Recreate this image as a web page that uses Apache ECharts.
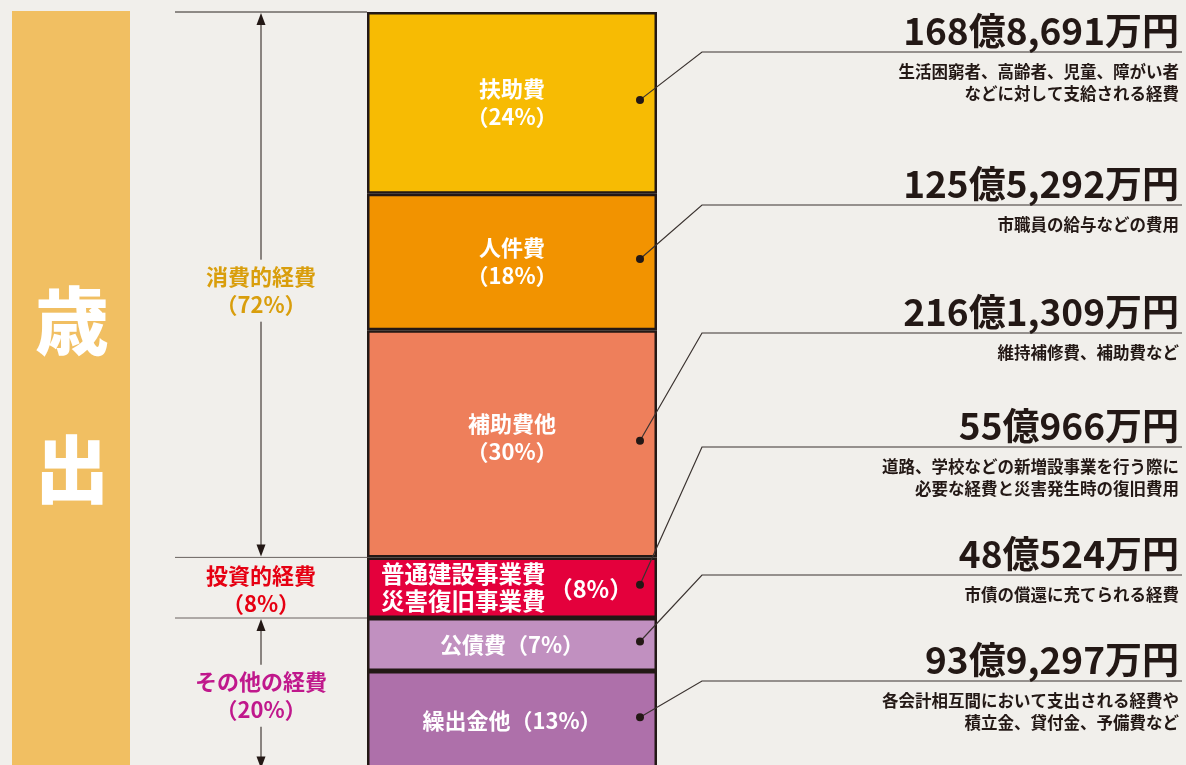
<!DOCTYPE html>
<html lang="ja">
<head>
<meta charset="utf-8">
<title>歳出</title>
<script src="https://cdn.jsdelivr.net/npm/echarts@6/dist/echarts.min.js"></script>
<style>
  html, body { margin: 0; padding: 0; background: #f1efeb; }
  #chart { width: 1186px; height: 765px; }
</style>
</head>
<body>
<div id="chart"></div>
<script>
// 歳出の内訳（構成比と金額）
const categories = ['扶助費', '人件費', '補助費他', '普通建設事業費\n災害復旧事業費', '公債費', '繰出金他']
const shares = [24, 18, 30, 8, 7, 13]
const amounts = ['168億8,691万円', '125億5,292万円', '216億1,309万円', '55億966万円', '48億524万円', '93億9,297万円']
const notes = [
  '生活困窮者、高齢者、児童、障がい者\nなどに対して支給される経費',
  '市職員の給与などの費用',
  '維持補修費、補助費など',
  '道路、学校などの新増設事業を行う際に\n必要な経費と災害発生時の復旧費用',
  '市債の償還に充てられる経費',
  '各会計相互間において支出される経費や\n積立金、貸付金、予備費など'
]
const groupNames = ['消費的経費', '投資的経費', 'その他の経費']
const groupShares = [72, 8, 20]
const groupSizes = [3, 1, 2]

const colors = ['#f7bb03', '#f29300', '#ee7f5b', '#e4003c', '#c190c0', '#ae70aa']
const groupColors = ['#d99e0c', '#e60012', '#c0188c']
const calloutY = [52, 205, 333, 447, 575, 681]
const FONT = '"Noto Sans CJK JP", "Noto Sans", sans-serif'
const INK = '#231815'

const starts = shares.map((_, i) => shares.slice(0, i).reduce((a, b) => a + b, 0))
const groupStarts = groupSizes.map((_, g) => starts[groupSizes.slice(0, g).reduce((a, b) => a + b, 0)])

const chart = echarts.init(document.getElementById('chart'))

const barSeries = categories.map((name, i) => ({
  type: 'bar',
  name: name,
  stack: 'all',
  barWidth: '100%',
  clip: false,
  data: [shares[i]],
  itemStyle: { color: colors[i], borderColor: INK, borderWidth: 2.5 },
  label: {
    show: true,
    position: i === 3 ? 'insideLeft' : 'inside',
    distance: 14,
    offset: i === 2 ? [0, -6] : [0, 0],
    color: '#fff',
    fontFamily: FONT,
    fontSize: i === 3 ? 23.5 : 22,
    fontWeight: 'bold',
    lineHeight: i === 3 ? 27 : 28,
    formatter: () => {
      if (i === 3) return name
      if (i < 3) return name + '\n（' + shares[i] + '%）'
      return name + '（' + shares[i] + '%）'
    }
  }
}))

const calloutSeries = {
  type: 'custom',
  z: 10,
  silent: true,
  data: shares.map((v, i) => [0, starts[i] + v / 2]),
  encode: { x: 0, y: 1 },
  renderItem: (params, api) => {
    const i = params.dataIndex
    const p = api.coord([0, api.value(1)])
    const half = api.size([1, 0])[0] / 2
    const dot = [p[0] + half - 17, p[1] - 3]
    const ly = calloutY[i]
    const right = api.getWidth() - 7
    const children = [
      { type: 'polyline', shape: { points: [dot, [702, ly], [api.getWidth() - 4, ly]] },
        style: { stroke: '#3b3330', lineWidth: 1.2, fill: null } },
      { type: 'circle', shape: { cx: dot[0], cy: dot[1], r: 4 }, style: { fill: INK } },
      { type: 'text', x: right, y: ly - 21,
        style: { text: amounts[i], align: 'right', verticalAlign: 'middle', fill: INK,
          fontFamily: FONT, fontSize: 37, fontWeight: 'bold' } },
      { type: 'text', x: right, y: ly + 9,
        style: { text: notes[i], align: 'right', verticalAlign: 'top', fill: INK,
          fontFamily: FONT, fontSize: 16.5, fontWeight: 'bold', lineHeight: 22 } }
    ]
    if (i === 3) {
      children.push({ type: 'text', x: p[0] + half - 66, y: p[1] + 1,
        style: { text: '（' + shares[i] + '%）', align: 'center', verticalAlign: 'middle', fill: '#fff',
          fontFamily: FONT, fontSize: 23.5, fontWeight: 'bold' } })
    }
    return { type: 'group', children: children }
  }
}

const groupSeries = {
  type: 'custom',
  z: 10,
  silent: true,
  data: groupShares.map((v, g) => [0, groupStarts[g], groupStarts[g] + v]),
  encode: { x: 0, y: [1, 2] },
  renderItem: (params, api) => {
    const g = params.dataIndex
    const p = api.coord([0, api.value(1)])
    const half = api.size([1, 0])[0] / 2
    const top = p[1]
    const bottom = api.coord([0, api.value(2)])[1]
    const mid = (top + bottom) / 2 + (g === 0 ? 6 : 2)
    const ax = 261
    const children = [
      { type: 'line', shape: { x1: 175, y1: top, x2: p[0] - half, y2: top },
        style: { stroke: g === 0 ? '#2b2420' : '#6a6360', lineWidth: 1 } },
      { type: 'text', x: ax, y: mid,
        style: { text: groupNames[g] + '\n（' + groupShares[g] + '%）', align: 'center', verticalAlign: 'middle',
          fill: groupColors[g], fontFamily: FONT, fontSize: 22, fontWeight: 'bold', lineHeight: 28 } }
    ]
    if (bottom - top > 120) {
      children.push(
        { type: 'line', shape: { x1: ax, y1: top + 8, x2: ax, y2: mid - 31 }, style: { stroke: INK, lineWidth: 1 } },
        { type: 'line', shape: { x1: ax, y1: mid + 31, x2: ax, y2: bottom - 8 }, style: { stroke: INK, lineWidth: 1 } },
        { type: 'polygon', shape: { points: [[ax, top + 1], [ax - 4.5, top + 13], [ax + 4.5, top + 13]] }, style: { fill: INK } },
        { type: 'polygon', shape: { points: [[ax, bottom - 1], [ax - 4.5, bottom - 13], [ax + 4.5, bottom - 13]] }, style: { fill: INK } }
      )
    }
    return { type: 'group', children: children }
  }
}

chart.setOption({
  backgroundColor: '#f1efeb',
  animation: false,
  grid: { left: 367, top: 12, width: 290, height: 757.5, outerBoundsMode: 'none' },
  xAxis: { type: 'category', data: ['歳出'], show: false },
  yAxis: { type: 'value', inverse: true, min: 0, max: 100, show: false },
  graphic: [
    { type: 'rect', x: 12, y: 11, shape: { width: 118, height: 760 }, style: { fill: '#f1bf62' }, z: -10 },
    { type: 'text', x: 72, y: 321, style: { text: '歳', align: 'center', verticalAlign: 'middle',
      fill: '#fff', fontFamily: FONT, fontSize: 74, fontWeight: 900 } },
    { type: 'text', x: 72, y: 469, style: { text: '出', align: 'center', verticalAlign: 'middle',
      fill: '#fff', fontFamily: FONT, fontSize: 74, fontWeight: 900 } }
  ],
  series: [...barSeries, calloutSeries, groupSeries]
})
</script>
</body>
</html>
